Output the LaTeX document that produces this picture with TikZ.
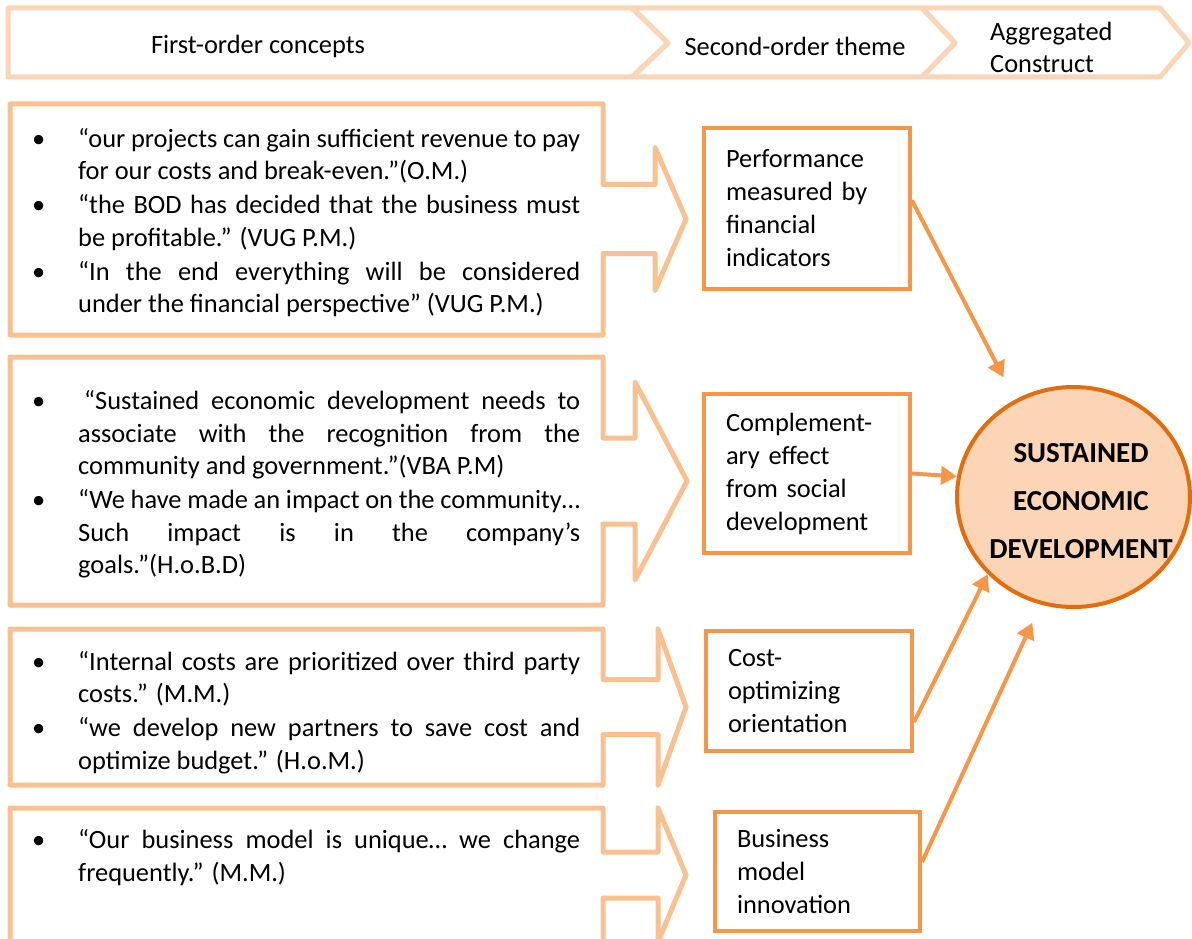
\documentclass[tikz,border=0pt]{standalone}
\usepackage{fontspec}
\setmainfont{Carlito}
\usetikzlibrary{arrows.meta,shapes.geometric}
\definecolor{hdr}{HTML}{FBD5B5}
\definecolor{lbox}{HTML}{FAC090}
\definecolor{acc}{HTML}{F79646}
\definecolor{darkacc}{HTML}{E46C0A}
\definecolor{circfill}{HTML}{FBD5B5}
\newcommand{\qsetup}{\setlength{\parskip}{1.5pt}\hyphenpenalty=10000\relax\tolerance=9999\relax}
\newcommand{\bitem}[2][0pt]{\par\hangindent=46pt\relax\hangafter=1\relax\noindent\makebox[46pt][l]{•}\hspace*{#1}#2\par}
\begin{document}
\begin{tikzpicture}[x=1pt,y=-1pt,
  hdrline/.style={draw=hdr, line width=5pt, line join=round},
  callout/.style={draw=lbox, line width=5pt, line join=round},
  quote/.style={anchor=west, inner sep=0pt, text width=548pt, align=justify,
    font=\fontsize{26.4}{32.5}\selectfont},
  theme/.style={draw=acc, line width=4pt, inner xsep=22pt, inner ysep=0pt, align=left,
    font=\fontsize{26.4}{33}\selectfont},
  conn/.style={draw=acc, line width=4pt, -{Triangle[length=16pt,width=18pt]}},
  hdrtext/.style={font=\fontsize{26.4}{32}\selectfont, inner sep=0pt}
]
\useasboundingbox (0,0) rectangle (1192,939);
\clip (0,0) rectangle (1192,939);

% header chevrons
\draw[hdrline] (8,8) -- (632,8) -- (668,43) -- (632,77) -- (8,77) -- cycle;
\draw[hdrline] (632,8) -- (922,8) -- (955,43) -- (922,77) -- (632,77) -- (668,43) -- cycle;
\draw[hdrline] (922,8) -- (1160,8) -- (1189,43) -- (1160,77) -- (922,77) -- (955,43) -- cycle;
\node[hdrtext] (h1) at (258,46) {First-order concepts};
\node[hdrtext] (h2) at (795,46) {Second-order theme};
\node[hdrtext, anchor=west, align=left] (h3) at (990,47) {Aggregated\\Construct};

% callout boxes
\draw[callout] (10,104) -- (603,104) -- (603,184.5) -- (655,184.5) -- (655,147.5) -- (686,219)
  -- (655,290.5) -- (655,253.5) -- (603,253.5) -- (603,335) -- (10,335) -- cycle;
\draw[callout] (10,357) -- (603,357) -- (603,438) -- (635,438) -- (635,382) -- (687,481)
  -- (635,580) -- (635,524) -- (603,524) -- (603,605) -- (10,605) -- cycle;
\draw[callout] (10,629) -- (603,629) -- (603,679.5) -- (658,679.5) -- (658,629) -- (686,707)
  -- (658,785) -- (658,734.5) -- (603,734.5) -- (603,785) -- (10,785) -- cycle;
\draw[callout] (10,808) -- (603,808) -- (603,852) -- (658,852) -- (658,808) -- (686,875)
  -- (658,942) -- (658,898) -- (603,898) -- (603,960) -- (10,960) -- cycle;

\node[quote] (q1) at (32,215) {\qsetup
\bitem{“our projects can gain sufficient revenue to pay \linebreak for our costs and break-even.”(O.M.)}
\bitem{“the BOD has decided that the business must \linebreak be profitable.” (VUG P.M.)}
\bitem{“In the end everything will be considered \linebreak under the financial perspective” (VUG P.M.)}};

\node[quote] (q2) at (32,477) {\qsetup
\bitem[6pt]{“Sustained economic development needs to \linebreak associate with the recognition from the \linebreak community and government.”(VBA P.M)}
\bitem{“We have made an impact on the community… \linebreak Such impact is in the company’s \linebreak goals.”(H.o.B.D)}};

\node[quote] (q3) at (32,705) {\qsetup
\bitem{“Internal costs are prioritized over third party \linebreak costs.” (M.M.)}
\bitem{“we develop new partners to save cost and \linebreak optimize budget.” (H.o.M.)}};

\node[quote] (q4) at (32,850) {\qsetup
\bitem{“Our business model is unique… we change \linebreak frequently.” (M.M.)}};

% theme boxes
\node[theme, text width=162pt, minimum height=161pt] (A) at (807,208.5)
  {Performance\\measured by\\financial\\indicators};
\node[theme, text width=162pt, minimum height=159pt] (B) at (807,473.5)
  {Complement-\\ary effect\\from social\\development};
\node[theme, text width=162pt, minimum height=120pt] (C) at (809,691)
  {Cost-\\optimizing\\orientation};
\node[theme, text width=161pt, minimum height=119pt] (D) at (817.5,871.5)
  {Business\\model\\innovation};

% aggregated construct
\node[ellipse, draw=darkacc, line width=4pt, fill=circfill, minimum width=233pt,
  minimum height=220pt, inner sep=0pt] (sed) at (1073.5,497) {};
\node[font=\fontsize{29}{48}\selectfont\bfseries, align=center, inner sep=0pt] (sedt)
  at (1081,501) {SUSTAINED\\ECONOMIC\\DEVELOPMENT};

% connectors
\draw[conn, shorten >=25pt] ([yshift=8pt]A.east) -- (sed.121);
\draw[conn] (B.east) -- (sed.170);
\draw[conn] ([yshift=-31pt]C.east) -- (sed.222);
\draw[conn, shorten >=20pt] ([yshift=9.5pt]D.east) -- (sed.253);
\end{tikzpicture}
\end{document}
